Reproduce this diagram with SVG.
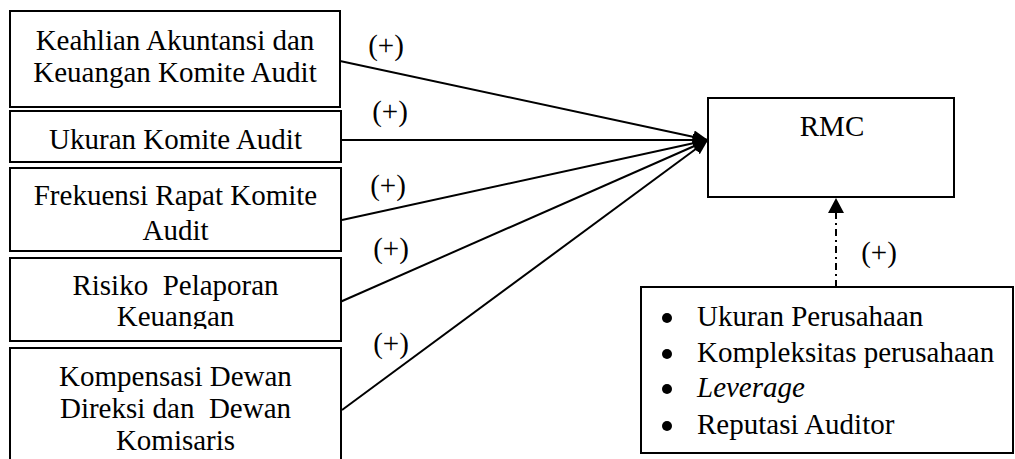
<svg xmlns="http://www.w3.org/2000/svg" width="1015" height="459" viewBox="0 0 1015 459">
<style>
  .box { fill: #fff; stroke: #000; stroke-width: 2; }
  .t { font-family: "Liberation Serif", "Times New Roman", serif; font-size: 29px; fill: #000; }
  .c { text-anchor: middle; }
  .conn { stroke: #000; stroke-width: 2; fill: none; }
  .dash { stroke: #000; stroke-width: 2; fill: none; stroke-dasharray: 7 4 2 4; }
</style>
<defs>
  <marker id="ah" markerUnits="userSpaceOnUse" markerWidth="16" markerHeight="14" refX="15" refY="6.5" orient="auto">
    <path d="M0,0 L15,6.5 L0,13 z" fill="#000"/>
  </marker>
  <clipPath id="clip4"><rect x="10" y="258" width="332" height="71"/></clipPath>
  <circle id="bullet" r="5" fill="#000"/>
</defs>
<rect width="1015" height="459" fill="#fff"/>

<g id="connectors">
  <line class="conn" x1="340" y1="61" x2="708" y2="140" marker-end="url(#ah)"/>
  <line class="conn" x1="341" y1="140" x2="708" y2="140" marker-end="url(#ah)"/>
  <line class="conn" x1="342" y1="220" x2="708" y2="140" marker-end="url(#ah)"/>
  <line class="conn" x1="340" y1="302" x2="708" y2="140" marker-end="url(#ah)"/>
  <line class="conn" x1="342" y1="410" x2="708" y2="140" marker-end="url(#ah)"/>
  <line class="dash" x1="836" y1="287" x2="836" y2="212"/>
  <path d="M828,213 L836,198 L844,213 z" fill="#000"/>
  <text class="t c" x="386" y="55">(+)</text>
  <text class="t c" x="390" y="121">(+)</text>
  <text class="t c" x="388" y="195">(+)</text>
  <text class="t c" x="391" y="258">(+)</text>
  <text class="t c" x="391" y="353">(+)</text>
  <text class="t c" x="879" y="262">(+)</text>
</g>

<g id="node-keahlian">
  <rect class="box" x="10" y="11" width="330" height="96"/>
  <text class="t c" x="175" y="50">Keahlian Akuntansi dan</text>
  <text class="t c" x="175" y="82">Keuangan Komite Audit</text>
</g>
<g id="node-ukuran">
  <rect class="box" x="10" y="111" width="331" height="51"/>
  <text class="t c" x="175.5" y="149">Ukuran Komite Audit</text>
</g>
<g id="node-frekuensi">
  <rect class="box" x="10" y="168" width="331" height="83"/>
  <text class="t c" x="175.5" y="205">Frekuensi Rapat Komite</text>
  <text class="t c" x="175.5" y="240">Audit</text>
</g>
<g id="node-risiko">
  <rect class="box" x="10" y="258" width="331" height="83"/>
  <g clip-path="url(#clip4)">
    <text class="t c" x="175.5" y="295" xml:space="preserve">Risiko  Pelaporan</text>
    <text class="t c" x="175.5" y="326">Keuangan</text>
  </g>
</g>
<g id="node-kompensasi">
  <rect class="box" x="10" y="348" width="331" height="130"/>
  <text class="t c" x="175.5" y="386">Kompensasi Dewan</text>
  <text class="t c" x="175.5" y="418" xml:space="preserve">Direksi dan  Dewan</text>
  <text class="t c" x="175.5" y="450">Komisaris</text>
</g>
<g id="node-rmc">
  <rect class="box" x="708" y="98" width="246" height="99"/>
  <text class="t c" x="832" y="136">RMC</text>
</g>
<g id="node-kontrol">
  <rect class="box" x="641" y="287" width="372" height="166"/>
  <use href="#bullet" x="667" y="318"/>
  <use href="#bullet" x="667" y="354"/>
  <use href="#bullet" x="667" y="389"/>
  <use href="#bullet" x="667" y="426"/>
  <text class="t" x="697" y="326">Ukuran Perusahaan</text>
  <text class="t" x="697" y="362">Kompleksitas perusahaan</text>
  <text class="t" x="697" y="397" font-style="italic">Leverage</text>
  <text class="t" x="697" y="434">Reputasi Auditor</text>
</g>
</svg>
